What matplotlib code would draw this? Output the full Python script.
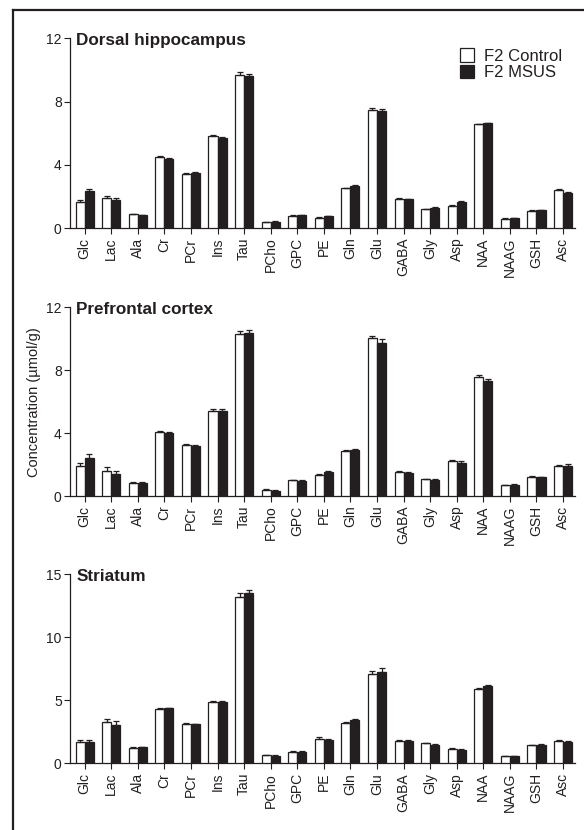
import matplotlib
matplotlib.use('Agg')
import matplotlib.pyplot as plt
from matplotlib.patches import Patch
from matplotlib.lines import Line2D
import numpy as np

plt.rcParams['font.family'] = ['Liberation Sans', 'DejaVu Sans']

ink = '#231f20'

metabolites = ['Glc', 'Lac', 'Ala', 'Cr', 'PCr', 'Ins', 'Tau', 'PCho', 'GPC', 'PE',
               'Gln', 'Glu', 'GABA', 'Gly', 'Asp', 'NAA', 'NAAG', 'GSH', 'Asc']

# Dorsal hippocampus
dh_control = [1.65, 1.90, 0.87, 4.50, 3.40, 5.81, 9.68, 0.38, 0.78, 0.66,
              2.50, 7.44, 1.84, 1.18, 1.39, 6.55, 0.59, 1.10, 2.39]
dh_msus = [2.34, 1.80, 0.80, 4.39, 3.48, 5.70, 9.59, 0.40, 0.80, 0.74,
           2.64, 7.40, 1.82, 1.27, 1.63, 6.62, 0.63, 1.12, 2.24]
dh_control_err = [0.12, 0.10, 0.04, 0.06, 0.05, 0.08, 0.17, 0.03, 0.03, 0.04,
                  0.05, 0.12, 0.03, 0.03, 0.06, 0.05, 0.02, 0.04, 0.06]
dh_msus_err = [0.12, 0.10, 0.03, 0.05, 0.06, 0.08, 0.13, 0.03, 0.03, 0.05,
               0.07, 0.15, 0.03, 0.03, 0.06, 0.05, 0.02, 0.04, 0.06]

# Prefrontal cortex
pfc_control = [1.93, 1.61, 0.85, 4.05, 3.22, 5.38, 10.30, 0.38, 1.00, 1.36,
               2.86, 10.05, 1.53, 1.06, 2.23, 7.59, 0.70, 1.21, 1.89]
pfc_msus = [2.44, 1.42, 0.83, 3.98, 3.18, 5.40, 10.37, 0.34, 0.97, 1.50,
            2.95, 9.75, 1.46, 1.02, 2.12, 7.29, 0.72, 1.21, 1.93]
pfc_control_err = [0.20, 0.22, 0.03, 0.10, 0.08, 0.17, 0.17, 0.04, 0.04, 0.07,
                   0.06, 0.15, 0.04, 0.04, 0.08, 0.10, 0.03, 0.04, 0.08]
pfc_msus_err = [0.25, 0.20, 0.03, 0.08, 0.05, 0.15, 0.17, 0.03, 0.04, 0.06,
                0.06, 0.25, 0.04, 0.04, 0.08, 0.12, 0.03, 0.03, 0.10]

# Striatum
str_control = [1.69, 3.25, 1.24, 4.31, 3.15, 4.84, 13.20, 0.63, 0.90, 1.90,
               3.17, 7.06, 1.77, 1.59, 1.14, 5.90, 0.56, 1.43, 1.77]
str_msus = [1.72, 3.04, 1.27, 4.35, 3.10, 4.87, 13.52, 0.60, 0.90, 1.85,
            3.41, 7.28, 1.77, 1.48, 1.06, 6.14, 0.58, 1.46, 1.67]
str_control_err = [0.15, 0.30, 0.05, 0.08, 0.06, 0.08, 0.35, 0.05, 0.04, 0.20,
                   0.08, 0.25, 0.05, 0.05, 0.10, 0.07, 0.03, 0.05, 0.10]
str_msus_err = [0.15, 0.30, 0.05, 0.06, 0.05, 0.06, 0.25, 0.04, 0.04, 0.05,
                0.10, 0.25, 0.05, 0.05, 0.06, 0.10, 0.03, 0.05, 0.08]

panels = [
    ('Dorsal hippocampus', dh_control, dh_msus, dh_control_err, dh_msus_err, 12, [0, 4, 8, 12]),
    ('Prefrontal cortex', pfc_control, pfc_msus, pfc_control_err, pfc_msus_err, 12, [0, 4, 8, 12]),
    ('Striatum', str_control, str_msus, str_control_err, str_msus_err, 15, [0, 5, 10, 15]),
]

# axes boxes in figure fractions (left, bottom, width, height)
boxes = [
    [0.1199, 0.7253, 0.8647, 0.2286],
    [0.1199, 0.4024, 0.8647, 0.2274],
    [0.1199, 0.0804, 0.8647, 0.2277],
]

fig = plt.figure(figsize=(5.84, 8.30), dpi=100)

# open frame: top and left lines only
fig.add_artist(Line2D([12.5 / 584, 1.0], [1 - 10.5 / 830, 1 - 10.5 / 830],
                      color=ink, lw=1.6, transform=fig.transFigure))
fig.add_artist(Line2D([12.5 / 584, 12.5 / 584], [0.0, 1 - 10.5 / 830],
                      color=ink, lw=1.6, transform=fig.transFigure))

x = np.arange(len(metabolites))
w = 0.34

for i, (title, ctrl, msus, ctrl_err, msus_err, ymax, yticks) in enumerate(panels):
    ax = fig.add_axes(boxes[i])
    ax.bar(x - w / 2, ctrl, w, color='white', edgecolor=ink, linewidth=0.9,
           yerr=[np.zeros(len(ctrl)), ctrl_err], error_kw=dict(ecolor=ink, elinewidth=0.9, capsize=2.2, capthick=0.9),
           label='F2 Control', zorder=3)
    ax.bar(x + w / 2, msus, w, color=ink, edgecolor=ink, linewidth=0.9,
           yerr=[np.zeros(len(msus)), msus_err], error_kw=dict(ecolor=ink, elinewidth=0.9, capsize=2.2, capthick=0.9),
           label='F2 MSUS', zorder=3)

    ax.set_xlim(-0.55, 18.45)
    ax.set_ylim(0, ymax)
    ax.set_yticks(yticks)
    ax.set_xticks(x)
    ax.set_xticklabels(metabolites, rotation=90, fontsize=10, color=ink)
    ax.tick_params(axis='y', labelsize=10, colors=ink, length=4, width=0.8, pad=2)
    ax.tick_params(axis='x', length=4, width=0.8, pad=3, colors=ink)
    for s in ['top', 'right']:
        ax.spines[s].set_visible(False)
    for s in ['left', 'bottom']:
        ax.spines[s].set_color(ink)
        ax.spines[s].set_linewidth(0.9)

    ax.text(0.012, 0.99, title, transform=ax.transAxes, fontsize=12.3, fontweight='bold',
            color=ink, ha='left', va='center')

    if i == 1:
        ax.set_ylabel('Concentration (\u00b5mol/g)', fontsize=10.5, color=ink, labelpad=4)

    if i == 0:
        handles = [Patch(facecolor='white', edgecolor=ink, linewidth=0.9),
                   Patch(facecolor=ink, edgecolor=ink, linewidth=0.9)]
        ax.legend(handles, ['F2 Control', 'F2 MSUS'], loc='upper right',
                  bbox_to_anchor=(0.995, 1.0), frameon=False, fontsize=12,
                  handlelength=0.85, handleheight=0.85, handletextpad=0.6,
                  labelspacing=0.08, borderaxespad=0.2, labelcolor=ink)

plt.savefig('out.png', dpi=100)
